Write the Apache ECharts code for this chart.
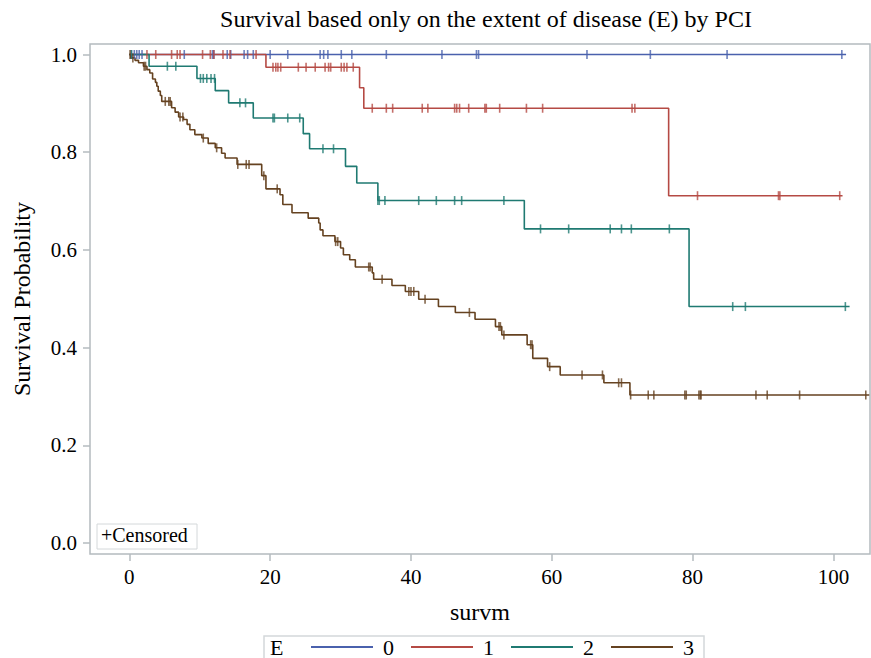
<!DOCTYPE html>
<html>
<head>
<meta charset="utf-8">
<title>Survival by E</title>
<script src="https://cdn.jsdelivr.net/npm/echarts@6/dist/echarts.min.js"></script>
<style>
  html, body { margin: 0; padding: 0; background: #fff; }
  #main { width: 871px; height: 658px; }
</style>
</head>
<body>
<div id="main"></div>
<script>
// ticks
var xTicks = [0, 20, 40, 60, 80, 100];
var yTicks = [0, 0.2, 0.4, 0.6, 0.8, 1.0];
var groupNames = ['0', '1', '2', '3'];

// E = 0
var g0Time = [0];
var g0Surv = [1.0];
var g0End = 101.8;
var g0Cens = [0.3, 0.7, 1.05, 1.4, 1.8, 7.8, 11.8, 12.0, 13.9, 14.4, 16.3, 16.8, 17.6, 20.0, 22.5,
  27.1, 27.6, 28.2, 30.1, 31.6, 36.5, 44.4, 49.3, 49.6, 65.0, 74.0, 84.9, 101.2];

// E = 1
var g1Time = [0, 19.4, 32.7, 33.3, 76.6];
var g1Surv = [1.0, 0.974, 0.932, 0.890, 0.711];
var g1End = 101.3;
var g1Cens = [2.5, 3.75, 6.0, 6.8, 7.2, 10.4, 11.5, 12.0, 13.3, 14.3, 18.0, 20.4, 20.8, 21.1, 21.5,
  24.0, 25.1, 26.4, 27.8, 28.3, 28.6, 30.1, 30.5, 30.9, 31.8, 34.5, 36.5, 37.4, 41.6, 42.4, 46.2,
  46.5, 46.9, 48.2, 50.5, 50.7, 52.6, 56.4, 58.7, 71.4, 71.8, 80.7, 92.2, 92.4, 100.9];

// E = 2
var g2Time = [0, 2.8, 9.6, 12.2, 14.1, 17.6, 24.7, 25.6, 30.7, 32.3, 35.3, 56.1, 79.5];
var g2Surv = [1.0, 0.976, 0.951, 0.926, 0.901, 0.870, 0.838, 0.807, 0.771, 0.737, 0.701, 0.643, 0.484];
var g2End = 102.3;
var g2Cens = [0.3, 5.4, 6.6, 10.1, 10.5, 11.0, 11.6, 12.1, 15.7, 16.5, 20.4, 20.6, 22.5, 24.2, 27.5,
  29.0, 35.3, 35.5, 36.3, 41.1, 43.6, 46.2, 47.2, 53.2, 58.4, 62.4, 68.3, 69.9, 71.3, 76.7, 85.7,
  87.5, 101.7];

// E = 3
var g3Time = [0, 0.2, 0.8, 1.3, 2.0, 2.5, 2.9, 3.3, 3.7, 3.9, 4.1, 4.4, 4.6, 6.0, 6.5, 7.0, 7.7,
  8.2, 8.6, 9.3, 10.3, 11.2, 12.2, 13.1, 13.6, 15.3, 18.8, 19.4, 21.4, 21.8, 23.1, 25.4, 26.9,
  27.1, 27.5, 29.2, 30.0, 30.4, 31.3, 32.1, 34.5, 34.7, 37.3, 39.2, 41.1, 43.9, 46.3, 49.1, 52.0,
  52.9, 56.5, 57.3, 59.4, 61.2, 67.4, 71.1];
var g3Surv = [1.0, 0.993, 0.988, 0.983, 0.976, 0.969, 0.962, 0.950, 0.943, 0.935, 0.925, 0.916,
  0.904, 0.891, 0.882, 0.872, 0.867, 0.857, 0.846, 0.836, 0.829, 0.818, 0.809, 0.798, 0.788,
  0.775, 0.752, 0.725, 0.713, 0.693, 0.676, 0.665, 0.655, 0.641, 0.629, 0.617, 0.604, 0.590,
  0.580, 0.565, 0.553, 0.540, 0.527, 0.515, 0.499, 0.484, 0.472, 0.458, 0.443, 0.426, 0.406,
  0.378, 0.361, 0.344, 0.328, 0.303];
var g3End = 105.1;
var g3Cens = [0.1, 0.5, 2.1, 2.3, 5.1, 5.6, 5.8, 7.2, 7.6, 10.5, 12.4, 15.4, 16.6, 17.0, 19.1,
  21.0, 29.3, 29.6, 34.0, 34.2, 35.9, 39.7, 40.0, 40.4, 42.0, 48.3, 52.5, 52.7, 53.2, 57.0, 57.2,
  59.7, 64.3, 67.2, 69.5, 69.9, 71.2, 73.7, 74.5, 78.9, 79.1, 80.9, 81.1, 81.2, 89.0, 90.6, 95.2,
  104.6];

var colors = ['#4a61ad', '#b54a44', '#1f7a72', '#654220'];
var groups = [
  [g0Time, g0Surv, g0End, g0Cens],
  [g1Time, g1Surv, g1End, g1Cens],
  [g2Time, g2Surv, g2End, g2Cens],
  [g3Time, g3Surv, g3End, g3Cens]
];

// survival value at time t (step function)
function survAt(times, surv, t) {
  var s = surv[0];
  for (var i = 0; i < times.length; i++) {
    if (times[i] <= t) s = surv[i];
  }
  return s;
}

var serif = 'Liberation Serif';
var frameColor = '#b4bbbf';

var series = [];
groups.forEach(function (g, k) {
  var pts = g[0].map(function (t, i) { return [t, g[1][i]]; });
  pts.push([g[2], g[1][g[1].length - 1]]);
  series.push({
    name: groupNames[k],
    type: 'line',
    step: 'end',
    symbol: 'none',
    data: pts,
    lineStyle: { color: colors[k], width: 1.6 },
    itemStyle: { color: colors[k] },
    z: 2 + k
  });
});
groups.forEach(function (g, k) {
  series.push({
    name: 'cens' + k,
    type: 'scatter',
    symbol: 'rect',
    symbolSize: [1.6, 9],
    data: g[3].map(function (t) { return [t, survAt(g[0], g[1], t)]; }),
    itemStyle: { color: colors[k] },
    z: 6 + k
  });
});

var myChart = echarts.init(document.getElementById('main'), null, { renderer: 'svg' });
var option = {
  animation: false,
  backgroundColor: '#fff',
  title: {
    text: 'Survival based only on the extent of disease (E) by PCI',
    left: 481,
    top: 2,
    textAlign: 'center',
    textStyle: { fontFamily: serif, fontSize: 24, fontWeight: 'normal', color: '#000' }
  },
  grid: {
    left: 90, right: 1, top: 44, bottom: 104,
    show: true, borderColor: frameColor, borderWidth: 1.5,
    containLabel: false
  },
  xAxis: {
    type: 'value',
    min: -5.59, max: 105.2,
    name: 'survm',
    nameLocation: 'middle',
    nameGap: 46,
    nameTextStyle: { fontFamily: serif, fontSize: 24, color: '#000' },
    axisLine: { show: false, onZero: false },
    splitLine: { show: false },
    axisTick: { show: true, length: 7, customValues: xTicks, lineStyle: { color: frameColor, width: 1.5 } },
    axisLabel: { customValues: xTicks, margin: 12, fontFamily: serif, fontSize: 21, color: '#000' }
  },
  yAxis: {
    type: 'value',
    min: -0.0225, max: 1.0215,
    name: 'Survival Probability',
    nameLocation: 'middle',
    nameGap: 56,
    nameRotate: 90,
    nameTextStyle: { fontFamily: serif, fontSize: 24, color: '#000' },
    axisLine: { show: false, onZero: false },
    splitLine: { show: false },
    axisTick: { show: true, length: 7, customValues: yTicks, lineStyle: { color: frameColor, width: 1.5 } },
    axisLabel: {
      customValues: yTicks, margin: 13, fontFamily: serif, fontSize: 21, color: '#000',
      formatter: function (v) { return v.toFixed(1); }
    }
  },
  legend: {
    data: groupNames,
    left: 311,
    top: 636,
    icon: 'rect',
    itemWidth: 62,
    itemHeight: 2,
    itemGap: 17,
    padding: 0,
    textStyle: { fontFamily: serif, fontSize: 22, color: '#000', padding: [0, 0, 0, 5] }
  },
  graphic: [
    { type: 'rect', shape: { x: 97, y: 524, width: 100, height: 25 }, style: { fill: '#fff', stroke: '#d4d8da', lineWidth: 1 }, z: 20 },
    { type: 'text', x: 101, y: 525, style: { text: '+Censored', font: '20px "Liberation Serif"', fill: '#000' }, z: 21 },
    { type: 'rect', shape: { x: 264, y: 636, width: 440, height: 30 }, style: { fill: 'none', stroke: '#d4d8da', lineWidth: 1.5 }, z: 20 },
    { type: 'text', x: 270, y: 636, style: { text: 'E', font: '22px "Liberation Serif"', fill: '#000' }, z: 21 }
  ],
  series: series
};
myChart.setOption(option);
</script>
</body>
</html>
